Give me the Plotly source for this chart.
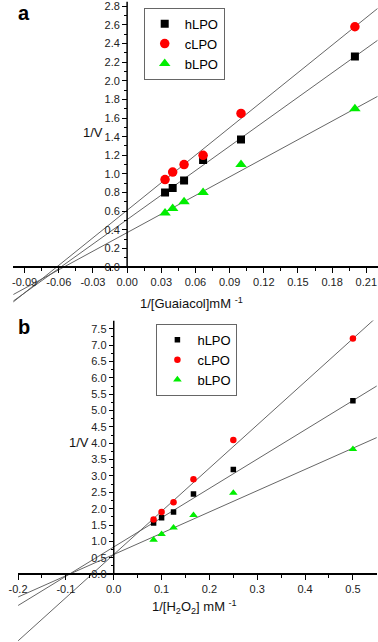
import plotly.graph_objects as go

W, H = 378, 642

# ---------------- data ----------------
x_guaiacol = [0.0333, 0.04, 0.05, 0.0667, 0.1, 0.2]
hLPO_a = [0.80, 0.85, 0.93, 1.15, 1.37, 2.26]
cLPO_a = [0.94, 1.02, 1.10, 1.20, 1.65, 2.58]
bLPO_a = [0.58, 0.63, 0.70, 0.80, 1.10, 1.70]
# fitted lines (intercept, slope)
fit_a = {"hLPO": (0.51, 8.75), "cLPO": (0.61, 9.85), "bLPO": (0.37, 6.65)}

x_h2o2 = [0.0833, 0.1, 0.125, 0.1667, 0.25, 0.5]
hLPO_b = [1.56, 1.72, 1.90, 2.45, 3.20, 5.30]
cLPO_b = [1.67, 1.90, 2.20, 2.90, 4.10, 7.20]
bLPO_b = [1.05, 1.22, 1.42, 1.80, 2.48, 3.82]
fit_b = {"hLPO": (0.83, 8.95), "cLPO": (0.60, 13.2), "bLPO": (0.60, 6.5)}

xticks_a = [-0.09, -0.06, -0.03, 0.00, 0.03, 0.06, 0.09, 0.12, 0.15, 0.18, 0.21]
xticklabels_a = ["-0.09", "-0.06", "-0.03", "0.00", "0.03", "0.06", "0.09", "0.12", "0.15", "0.18", "0.21"]
yticks_a = [0.0, 0.2, 0.4, 0.6, 0.8, 1.0, 1.2, 1.4, 1.6, 1.8, 2.0, 2.2, 2.4, 2.6, 2.8]
xticks_b = [-0.2, -0.1, 0.0, 0.1, 0.2, 0.3, 0.4, 0.5]
yticks_b = [0.0, 0.5, 1.0, 1.5, 2.0, 2.5, 3.0, 3.5, 4.0, 4.5, 5.0, 5.5, 6.0, 6.5, 7.0, 7.5]

# ---------------- geometry (pixels) ----------------
# panel a
ax0, akx = 121.0, 1166.7   # px of x=0, px per unit
ay0, aky = 266.5, 93.3
xr_a = [-0.1, 0.22]
yr_a = [-0.4, 2.85]
# panel b
bx0, bkx = 107.3, 490.0
by0, bky = 574.0, 32.76
xr_b = [-0.2, 0.55]
yr_b = [-2.05, 7.75]


def xdom(x0, kx, r):
    return [(x0 + r[0] * kx) / W, (x0 + r[1] * kx) / W]


def ydom(y0, ky, r):
    return [1 - (y0 - r[0] * ky) / H, 1 - (y0 - r[1] * ky) / H]


FONT = "Liberation Sans, Arial, sans-serif"
LINE = "#555555"

fig = go.Figure()

styles = {
    "hLPO": dict(symbol="square", color="black"),
    "cLPO": dict(symbol="circle", color="#FF0000"),
    "bLPO": dict(symbol="triangle-up", color="#00EE00"),
}
sizes_a = {"hLPO": 8, "cLPO": 9.5, "bLPO": 10}
sizes_b = {"hLPO": 5.5, "cLPO": 6.5, "bLPO": 7.5}

# panel a
ser_a = {"hLPO": hLPO_a, "cLPO": cLPO_a, "bLPO": bLPO_a}
for name in ["hLPO", "cLPO", "bLPO"]:
    b0, m = fit_a[name]
    fig.add_trace(go.Scatter(x=xr_a, y=[b0 + m * xr_a[0], b0 + m * xr_a[1]],
                             mode="lines", line=dict(color=LINE, width=0.9),
                             showlegend=False, xaxis="x", yaxis="y", hoverinfo="skip"))
for name in ["hLPO", "cLPO", "bLPO"]:
    fig.add_trace(go.Scatter(x=x_guaiacol, y=ser_a[name], mode="markers", name=name,
                             marker=dict(symbol=styles[name]["symbol"], color=styles[name]["color"],
                                         size=sizes_a[name], line=dict(width=0)),
                             xaxis="x", yaxis="y", legend="legend"))

# panel b
ser_b = {"hLPO": hLPO_b, "cLPO": cLPO_b, "bLPO": bLPO_b}
for name in ["hLPO", "cLPO", "bLPO"]:
    b0, m = fit_b[name]
    fig.add_trace(go.Scatter(x=xr_b, y=[b0 + m * xr_b[0], b0 + m * xr_b[1]],
                             mode="lines", line=dict(color=LINE, width=0.9),
                             showlegend=False, xaxis="x2", yaxis="y2", hoverinfo="skip"))
for name in ["hLPO", "cLPO", "bLPO"]:
    fig.add_trace(go.Scatter(x=x_h2o2, y=ser_b[name], mode="markers", name=name,
                             marker=dict(symbol=styles[name]["symbol"], color=styles[name]["color"],
                                         size=sizes_b[name], line=dict(width=0)),
                             xaxis="x2", yaxis="y2", legend="legend2"))

tickfont = dict(family=FONT, size=11, color="#222222")
common_x = dict(showgrid=False, zeroline=False, showline=True, linecolor="black", linewidth=1.5,
                ticks="outside", ticklen=5, tickwidth=1.2, tickcolor="black",
                tickfont=tickfont, anchor="free", fixedrange=True, ticklabeloverflow="allow")
common_y = dict(showgrid=False, zeroline=False, showline=False,
                ticks="outside", ticklen=5, tickwidth=1.2, tickcolor="black",
                tickfont=tickfont, anchor="free", side="left", fixedrange=True,
                ticklabeloverflow="allow")

minor_xa = [-0.105 + 0.03 * i for i in range(11)]
minor_ya = [0.1 + 0.2 * i for i in range(14)]
minor_xb = [-0.15 + 0.1 * i for i in range(7)]
minor_yb = [0.25 + 0.5 * i for i in range(15)]

fig.update_layout(
    width=W, height=H, margin=dict(l=0, r=0, t=0, b=0),
    plot_bgcolor="white", paper_bgcolor="white",
    xaxis=dict(common_x, domain=xdom(ax0, akx, xr_a), range=xr_a,
               tickmode="array", tickvals=xticks_a, ticktext=xticklabels_a,
               position=1 - ay0 / H,
               minor=dict(tickvals=minor_xa, ticklen=3, tickwidth=1, tickcolor="black", ticks="outside")),
    yaxis=dict(common_y, domain=ydom(ay0, aky, yr_a), range=yr_a,
               tickmode="array", tickvals=yticks_a, ticktext=[f"{v:.1f}" for v in yticks_a],
               position=ax0 / W,
               minor=dict(tickvals=minor_ya, ticklen=3, tickwidth=1, tickcolor="black", ticks="outside")),
    xaxis2=dict(common_x, domain=xdom(bx0, bkx, xr_b), range=xr_b,
                tickmode="array", tickvals=xticks_b, ticktext=[f"{v:.1f}" for v in xticks_b],
                position=1 - by0 / H,
                minor=dict(tickvals=minor_xb, ticklen=3, tickwidth=1, tickcolor="black", ticks="outside")),
    yaxis2=dict(common_y, domain=ydom(by0, bky, yr_b), range=yr_b,
                tickmode="array", tickvals=yticks_b, ticktext=[f"{v:.1f}" for v in yticks_b],
                position=bx0 / W,
                minor=dict(tickvals=minor_yb, ticklen=3, tickwidth=1, tickcolor="black", ticks="outside")),
    legend=dict(x=138 / W, y=1 - 6.7 / H, xanchor="left", yanchor="top",
                bordercolor="#666666", borderwidth=1, bgcolor="white",
                font=dict(family=FONT, size=13, color="black"), itemwidth=30,
                tracegroupgap=0),
    legend2=dict(x=151 / W, y=1 - 323.3 / H, xanchor="left", yanchor="top",
                 bordercolor="#666666", borderwidth=1, bgcolor="white",
                 font=dict(family=FONT, size=13, color="black"), itemwidth=30,
                 tracegroupgap=0),
    showlegend=True,
)

# y axis lines (only from 0 upward)
fig.add_shape(type="line", xref="x", yref="y", x0=0, x1=0, y0=0, y1=yr_a[1],
              line=dict(color="black", width=1.5))
fig.add_shape(type="line", xref="x2", yref="y2", x0=0, x1=0, y0=0, y1=yr_b[1],
              line=dict(color="black", width=1.5))

ann_font = dict(family=FONT, size=13, color="#111111")


def label(text, px, py, font):
    fig.add_annotation(text=text, x=px / W, y=1 - py / H, xref="paper", yref="paper",
                       xanchor="center", yanchor="middle", showarrow=False, font=font)


label("<b>a</b>", 15, 12, dict(family=FONT, size=20, color="black"))
label("<b>b</b>", 15, 327, dict(family=FONT, size=20, color="black"))
label("1/V", 86, 132, ann_font)
label("1/V", 72, 442, ann_font)
label("1/[Guaiacol]mM <sup>-1</sup>", 187, 302, ann_font)
label("1/[H<sub>2</sub>O<sub>2</sub>] mM <sup>-1</sup>", 190, 607, ann_font)

fig.write_html("out.html", config={"displayModeBar": False},
               post_script="document.body.style.margin='0';document.body.style.overflow='hidden';")
